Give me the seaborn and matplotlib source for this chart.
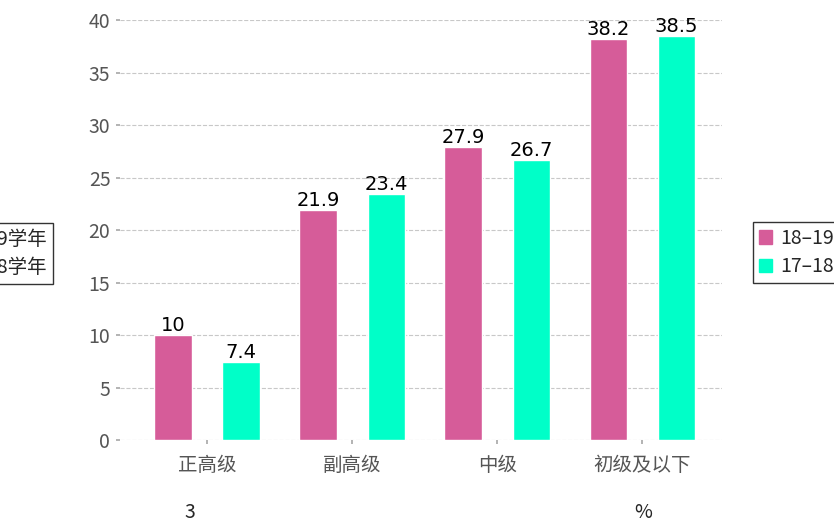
import matplotlib
matplotlib.use("Agg")
import matplotlib.pyplot as plt
import pandas as pd
import seaborn as sns

# data
levels = ["正高级", "副高级", "中级", "初级及以下"]
year_labels = ["18–19学年", "17–18学年"]
vals_1819 = [10, 21.9, 27.9, 38.2]
vals_1718 = [7.4, 23.4, 26.7, 38.5]
y_ticks = [0, 5, 10, 15, 20, 25, 30, 35, 40]

sns.set_theme(style="white")
plt.rcParams["font.family"] = ["Noto Sans CJK SC", "DejaVu Sans"]

rows = []
for lv, a, b in zip(levels, vals_1819, vals_1718):
    rows.append([lv, year_labels[0], a])
    rows.append([lv, year_labels[1], b])
df = pd.DataFrame(rows, columns=["level", "year", "pct"])

my_pal = {year_labels[0]: "#D65C99", year_labels[1]: "#00FFC8"}

fig = plt.figure(figsize=(8.34, 5.29), dpi=100)
ax = fig.add_axes([0.144, 0.168, 0.722, 0.794])

ax.grid(axis="y", linestyle="--", color="#c8c8c8", linewidth=0.8, zorder=0)
ax.set_axisbelow(True)

sns.barplot(data=df, x="level", y="pct", hue="year", order=levels,
            hue_order=year_labels, palette=my_pal, width=0.94, gap=0.45,
            saturation=1, ax=ax, legend=False, zorder=3)

for c in ax.containers:
    ax.bar_label(c, fmt="%g", fontsize=14, color="black", padding=0,
                 family=["DejaVu Sans"])

ax.set_ylim(0, 40)
ax.set_xlim(-0.6, 3.55)
ax.set_yticks(y_ticks)
ax.set_xlabel("")
ax.set_ylabel("")
for s in ax.spines.values():
    s.set_visible(False)
ax.tick_params(axis="y", length=3, color="#aaaaaa", labelsize=14,
               labelcolor="#555555", pad=4, left=True)
ax.tick_params(axis="x", length=3, color="#aaaaaa", labelsize=14,
               labelcolor="#555555", pad=8, bottom=True)

handles = [plt.Rectangle((0, 0), 1, 1, color=my_pal[y]) for y in year_labels]
leg_kw = dict(fontsize=14, frameon=True, fancybox=False, edgecolor="black",
              handlelength=0.7, handleheight=0.7, handletextpad=0.4,
              borderpad=0.3, labelspacing=0.4)
# right legend (runs off the figure edge like the reference)
fig.legend(handles, year_labels, loc="upper left",
           bbox_to_anchor=(743 / 834, 1 - 212 / 529), **leg_kw)
# left copy, mostly cut off
fig.legend(handles, year_labels, loc="upper right",
           bbox_to_anchor=(63 / 834, 1 - 213 / 529), **leg_kw)

fig.text(190 / 834, 1 - 513 / 529, "3", fontsize=14, ha="center", va="center")
fig.text(643 / 834, 1 - 513 / 529, "%", fontsize=14, ha="center", va="center")

fig.savefig("out.png", dpi=100)
